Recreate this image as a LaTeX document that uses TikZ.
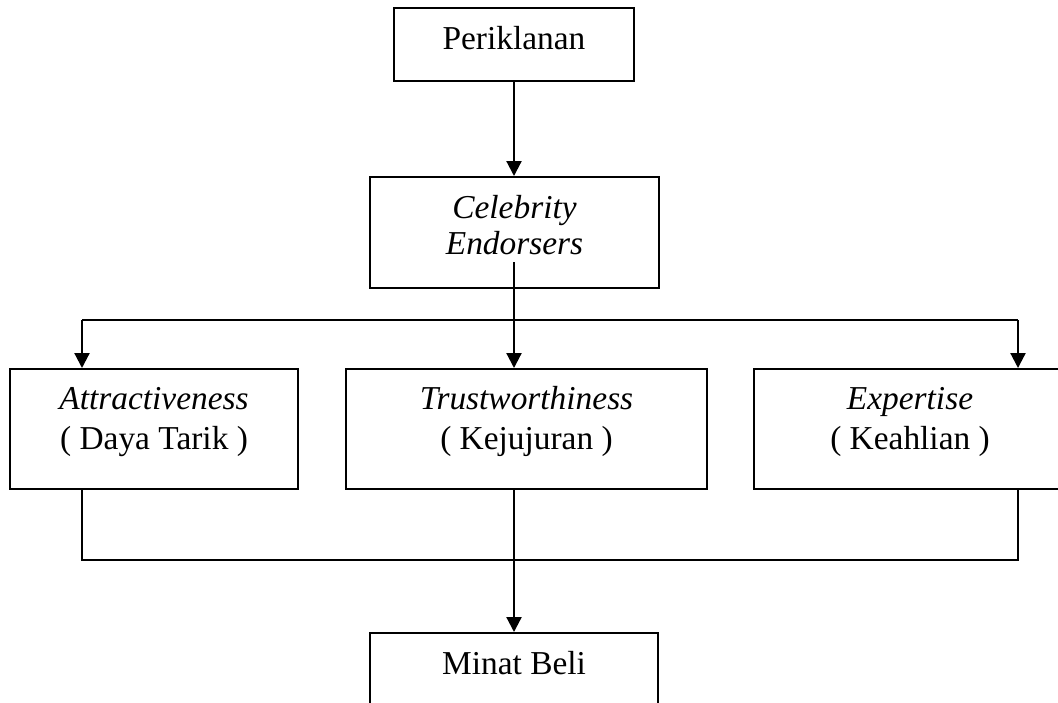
\documentclass[tikz,border=0pt]{standalone}
\usepackage{fontspec}
\setmainfont{Liberation Serif}
\usetikzlibrary{arrows.meta}

\begin{document}
\begin{tikzpicture}[
  x=0.5pt,y=-0.5pt,
  font=\fontsize{16.7}{20}\selectfont,
  >={Triangle[width=7.5pt,length=7.5pt]},
  line width=1.1pt,
  box/.style={draw,anchor=north,align=center,inner xsep=2pt,inner ysep=4pt,text height=16.5pt},
  dim/.style={box,minimum width=144pt,text height=36pt,text depth=16pt}
]
\useasboundingbox (0,0) rectangle (1058,702);
\clip (0,0) rectangle (1058,702);
\node[box,minimum width=120pt,text depth=12pt] (per) at (514,7) {Periklanan};
\node[box,minimum width=144.5pt,text height=34.5pt,text depth=13pt,font=\fontsize{16.7}{18}\selectfont] (cel) at (514.5,176) {\textit{Celebrity}\\\textit{Endorsers}};
\node[dim] (att) at (154,368) {\textit{Attractiveness}\\( Daya Tarik )};
\node[dim,minimum width=180.5pt] (tru) at (526.5,368) {\textit{Trustworthiness}\\( Kejujuran )};
\node[dim,minimum width=156pt] (exp) at (910,368) {\textit{Expertise}\\( Keahlian )};
\node[box,minimum width=144pt,text depth=40pt] (min) at (514,632) {Minat Beli};
\coordinate (split) at (514,262);
\coordinate (hl) at (82,320);
\coordinate (hr) at (1018,320);
\coordinate (bl) at (82,560);
\coordinate (br) at (1018,560);
\draw[->] (per.south -| split) -- (cel.north -| split);
\draw[->] (split) -- (split |- tru.north);
\draw (hl) -- (hr);
\draw[->] (hl) -- (hl |- att.north);
\draw[->] (hr) -- (hr |- exp.north);
\draw (bl |- att.south) -- (bl) -- (br) -- (br |- exp.south);
\draw[->] (split |- tru.south) -- (split |- min.north);
\end{tikzpicture}
\end{document}
